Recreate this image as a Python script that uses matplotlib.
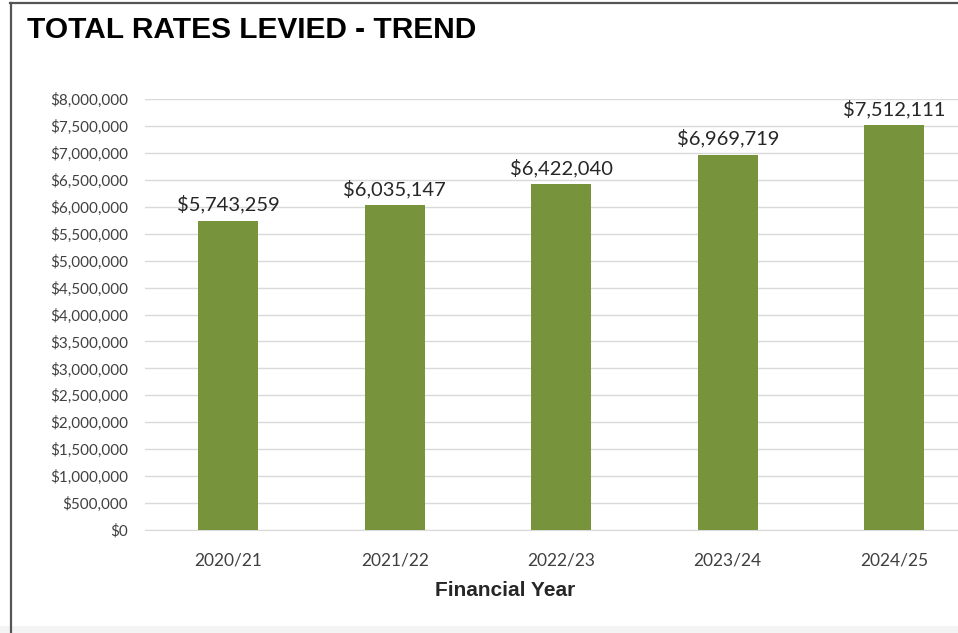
import matplotlib.pyplot as plt
from matplotlib.ticker import FuncFormatter
from matplotlib.patches import Rectangle
from matplotlib.lines import Line2D

years = ["2020/21", "2021/22", "2022/23", "2023/24", "2024/25"]
rates = [5743259, 6035147, 6422040, 6969719, 7512111]
yticks = list(range(0, 8000001, 500000))

bar_color = "#77933c"
tick_font = "Lato"
head_font = "Liberation Sans"

fig = plt.figure(figsize=(9.58, 6.33), dpi=100)
fig.patch.set_facecolor("white")

# frame around the chart area
fig.add_artist(Rectangle((0, 0), 1, 7 / 633, transform=fig.transFigure,
                         facecolor="#f4f4f4", edgecolor="none"))
fig.add_artist(Line2D([10.5 / 958, 10.5 / 958], [0, 1 - 3 / 633], transform=fig.transFigure,
                      color="#555555", lw=1.6))
fig.add_artist(Line2D([10 / 958, 1], [1 - 3 / 633, 1 - 3 / 633], transform=fig.transFigure,
                      color="#555555", lw=1.6))

ax = fig.add_axes([145 / 958, 1 - 530 / 633, 5 * 166.5 / 958, 431 / 633])
x = list(range(len(years)))
bars = ax.bar(x, rates, width=0.36, color=bar_color, zorder=3)

for rect, v in zip(bars, rates):
    ax.annotate(f"${v:,.0f}", (rect.get_x() + rect.get_width() / 2, v),
                xytext=(0, 5), textcoords="offset points", ha="center", va="bottom",
                fontsize=14.5, family=tick_font, color="#262626")

ax.set_xlim(-0.5, 4.5)
ax.set_ylim(0, 8000000)
ax.set_yticks(yticks)
ax.yaxis.set_major_formatter(FuncFormatter(lambda v, p: f"${v:,.0f}"))
ax.set_xticks(x)
ax.set_xticklabels(years)
ax.tick_params(length=0, labelsize=11, labelcolor="#404040", pad=12)
ax.tick_params(axis="x", labelsize=12.5, pad=16)
for lab in ax.get_xticklabels() + ax.get_yticklabels():
    lab.set_family(tick_font)

ax.grid(axis="y", color="#d9d9d9", lw=1, zorder=0)
for s in ["top", "right", "left"]:
    ax.spines[s].set_visible(False)
ax.spines["bottom"].set_color("#d9d9d9")

fig.text(505 / 958, 1 - 591 / 633, "Financial Year", fontsize=15, fontweight="bold",
         family=head_font, color="#262626", ha="center", va="center")

fig.text(27 / 958, 1 - 30 / 633, "TOTAL RATES LEVIED - TREND", fontsize=21.5,
         fontweight="bold", family=head_font, color="black", va="center", ha="left")

fig.savefig("out.png", dpi=100)
